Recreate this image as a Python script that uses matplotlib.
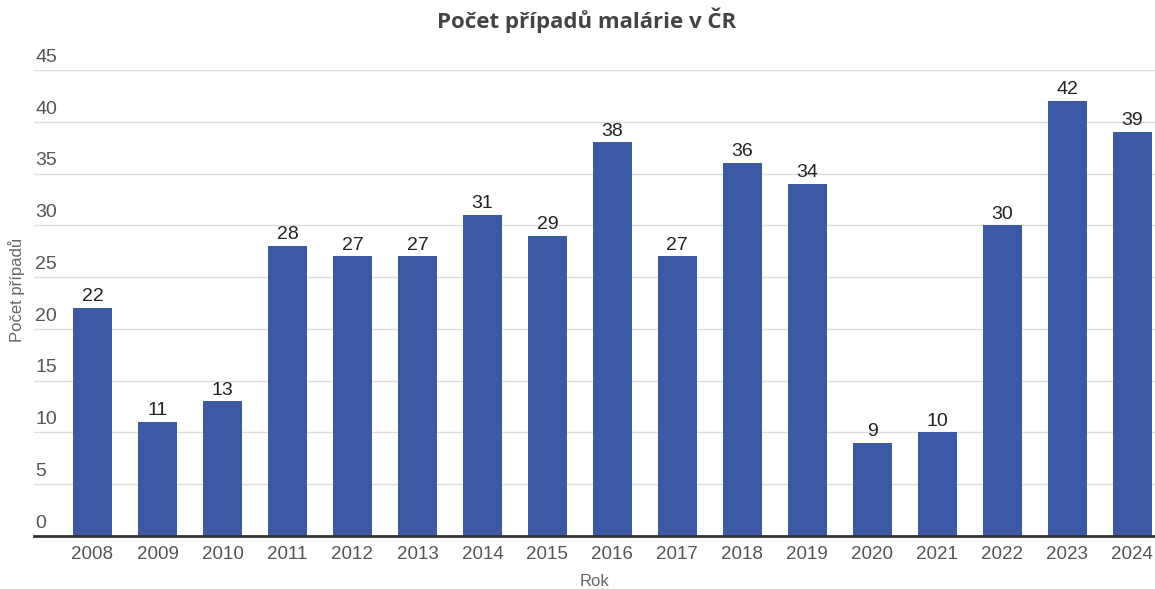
import matplotlib.pyplot as plt
import matplotlib.transforms as mtransforms

# Data
years = ["2008", "2009", "2010", "2011", "2012", "2013", "2014", "2015", "2016",
         "2017", "2018", "2019", "2020", "2021", "2022", "2023", "2024"]
cases = [22, 11, 13, 28, 27, 27, 31, 29, 38, 27, 36, 34, 9, 10, 30, 42, 39]
y_ticks = [0, 5, 10, 15, 20, 25, 30, 35, 40, 45]

plt.rcParams["font.family"] = ["Liberation Sans", "DejaVu Sans"]

fig = plt.figure(figsize=(11.55, 5.89), dpi=100)
ax = fig.add_axes([34 / 1155, 1 - 536 / 589, 1 - 34 / 1155, (536 - 70) / 589])

x = list(range(len(years)))
bars = ax.bar(x, cases, width=0.6, color="#3c59a5", zorder=3)

# Value labels above bars
for xi, v in zip(x, cases):
    ax.annotate(str(v), (xi, v), xytext=(0, 2), textcoords="offset points",
                ha="center", va="bottom", fontsize=14, color="#222222")

ax.set_xlim(-0.9, len(years) - 1 + 0.35)
ax.set_ylim(0, 45)
ax.set_xticks(x)
ax.set_xticklabels(years, fontsize=13.5, color="#555555")
ax.tick_params(axis="x", length=0, pad=7)

# Y gridlines with labels sitting above them
ax.set_yticks(y_ticks)
ax.set_yticklabels([])
ax.tick_params(axis="y", length=0)
ax.grid(axis="y", color="#dddddd", linewidth=1, zorder=0)
trans = mtransforms.blended_transform_factory(ax.transAxes, ax.transData)
for t in y_ticks:
    ax.annotate(str(t), (0, t), xycoords=trans, xytext=(1, 3),
                textcoords="offset points", ha="left", va="bottom",
                fontsize=14, color="#555555")

for side in ["top", "right", "left"]:
    ax.spines[side].set_visible(False)
ax.spines["bottom"].set_color("#333333")
ax.spines["bottom"].set_linewidth(2)
ax.spines["bottom"].set_zorder(4)

ax.set_xlabel("Rok", fontsize=12, color="#666666", labelpad=8)
fig.text(17 / 1155, 1 - 290 / 589, "Počet případů", rotation=90, fontsize=12,
         color="#666666", ha="center", va="center")
fig.text(587 / 1155, 1 - 20 / 589, "Počet případů malárie v ČR", fontsize=16,
         fontweight="bold", color="#444444", ha="center", va="center",
         family=["Open Sans", "DejaVu Sans"])

fig.savefig("out.png", dpi=100)
